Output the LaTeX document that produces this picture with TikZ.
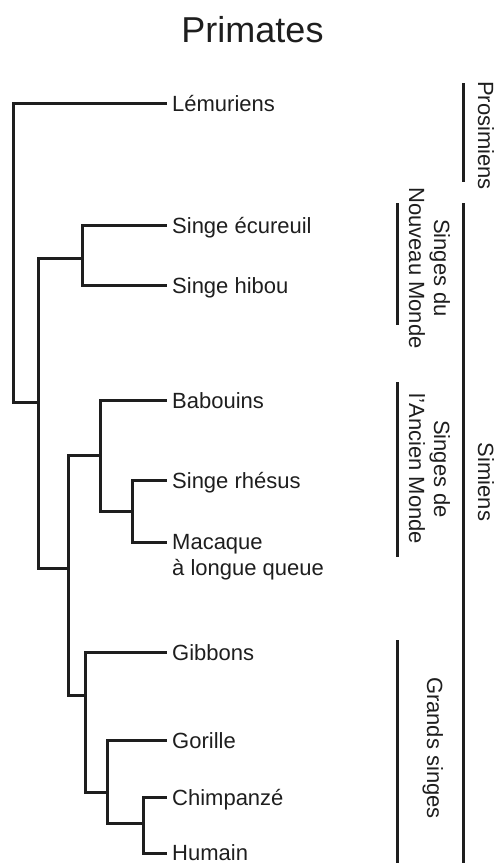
\documentclass[tikz,border=0pt]{standalone}
\usepackage{fontspec}
\setmainfont{Liberation Sans}
\definecolor{ink}{RGB}{30,30,30}
\begin{document}
\begin{tikzpicture}[x=1pt,y=-1pt,
  branch/.style={draw=ink, line width=3pt, line cap=rect, line join=miter},
  bracket/.style={draw=ink, line width=3pt},
  leaf/.style={anchor=base west, inner sep=0pt, text=ink, font=\fontsize{22}{26}\selectfont},
  group/.style={rotate=-90, inner sep=0pt, text=ink, align=center, font=\fontsize{22}{25}\selectfont},
  heading/.style={anchor=base, inner sep=0pt, text=ink, font=\fontsize{36}{40}\selectfont}]
\useasboundingbox (0,0) rectangle (495,863);

% title
\node[heading] (title) at (252.5,42) {Primates};

% internal nodes (bar x, join y)
\coordinate (root) at (13,402);
\coordinate (sim)  at (38,402);
\coordinate (nw)   at (82,258);
\coordinate (cat)  at (68,568);
\coordinate (ow)   at (100,455);
\coordinate (rm)   at (132,511);
\coordinate (apes) at (85,695);
\coordinate (hom)  at (107,792);
\coordinate (ch)   at (143,823);

% leaf ends
\coordinate (lemE) at (165,103);
\coordinate (ecuE) at (165,225);
\coordinate (hibE) at (165,285);
\coordinate (babE) at (165,400);
\coordinate (rheE) at (165,480);
\coordinate (macE) at (165,542);
\coordinate (gibE) at (165,652);
\coordinate (gorE) at (165,740);
\coordinate (chiE) at (165,797);
\coordinate (humE) at (165,853);

% labels
\node[leaf] (lem) at (172,111) {Lémuriens};
\node[leaf] (ecu) at (172,233) {Singe écureuil};
\node[leaf] (hib) at (172,293) {Singe hibou};
\node[leaf] (bab) at (172,408) {Babouins};
\node[leaf] (rhe) at (172,488) {Singe rhésus};
\node[leaf, anchor=north west, align=left] (mac) at (172,534) {Macaque\\à longue queue};
\node[leaf] (gib) at (172,660) {Gibbons};
\node[leaf] (gor) at (172,748) {Gorille};
\node[leaf] (chi) at (172,805) {Chimpanzé};
\node[leaf] (hum) at (172,860) {Humain};

% tree
\draw[branch] (root) |- (lemE);
\draw[branch] (root) -- (sim);
\draw[branch] (sim) |- (nw);
\draw[branch] (sim) |- (cat);
\draw[branch] (nw) |- (ecuE);
\draw[branch] (nw) |- (hibE);
\draw[branch] (cat) |- (ow);
\draw[branch] (cat) |- (apes);
\draw[branch] (ow) |- (babE);
\draw[branch] (ow) |- (rm);
\draw[branch] (rm) |- (rheE);
\draw[branch] (rm) |- (macE);
\draw[branch] (apes) |- (gibE);
\draw[branch] (apes) |- (hom);
\draw[branch] (hom) |- (gorE);
\draw[branch] (hom) |- (ch);
\draw[branch] (ch) |- (chiE);
\draw[branch] (ch) |- (humE);

% group brackets
\draw[bracket] (463,83) -- (463,182);
\draw[bracket] (463,203) -- (463,863);
\draw[bracket] (397,203) -- (397,325);
\draw[bracket] (397,382) -- (397,557);
\draw[bracket] (397,640) -- (397,863);

% group labels
\node[group, anchor=base] (pro) at (478,135.5) {Prosimiens};
\node[group, anchor=base] (simi) at (478,482) {Simiens};
\node[group] (nwm) at (429.5,268) {Singes du\\Nouveau Monde};
\node[group] (owm) at (429.5,469) {Singes de\\l'Ancien Monde};
\node[group, anchor=base] (gs) at (427,748) {Grands singes};
\end{tikzpicture}
\end{document}
